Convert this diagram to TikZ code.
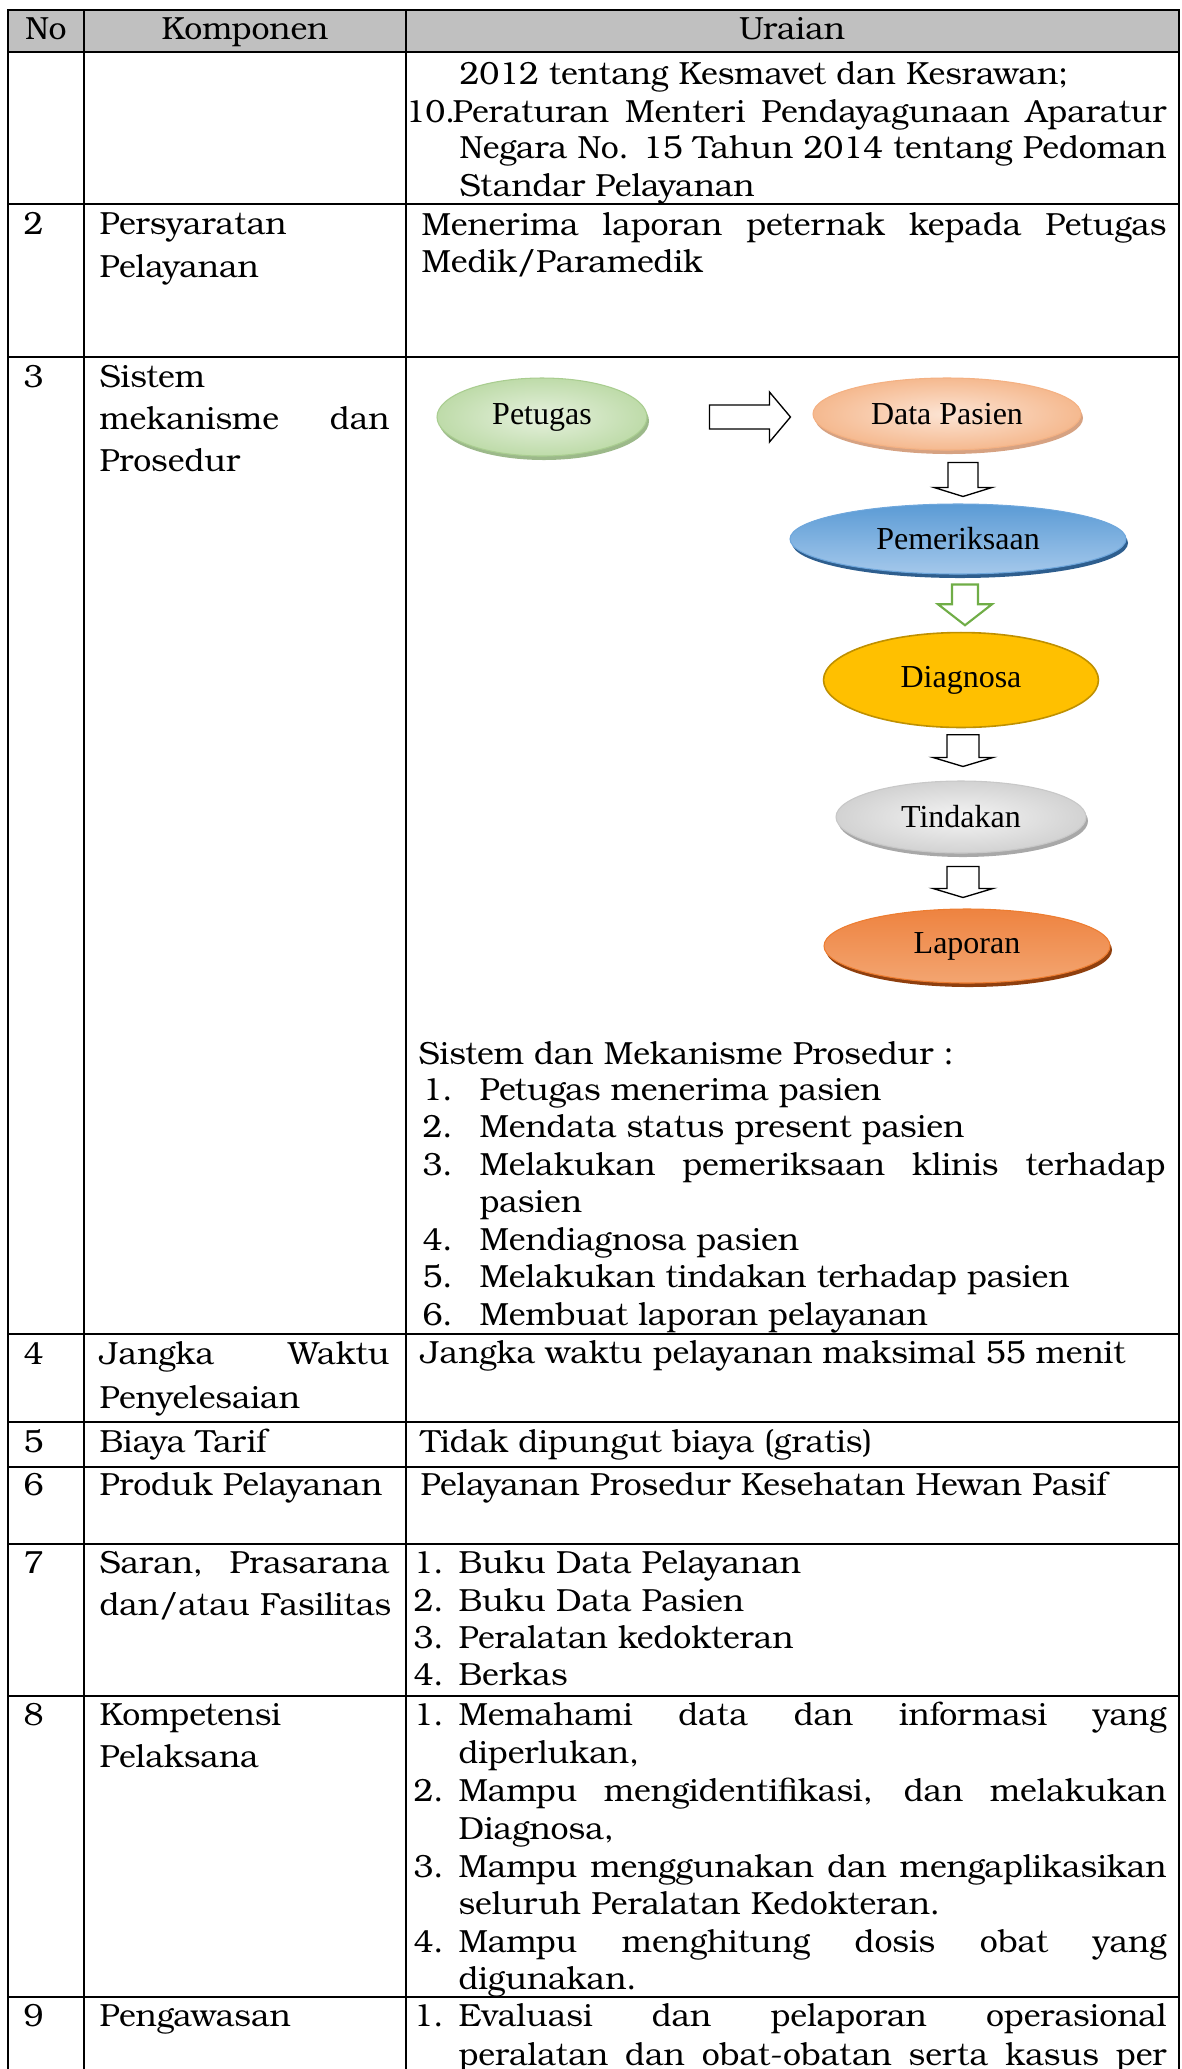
\documentclass[tikz,border=0pt]{standalone}
\usepackage{fontspec}
\setmainfont{TeX Gyre Bonum}
\newfontfamily\tnr{Liberation Serif}
\usetikzlibrary{shapes.geometric,shadows,calc}
\definecolor{hdr}{RGB}{192,192,192}
\definecolor{petI}{HTML}{E6F1DE}\definecolor{petO}{HTML}{BEDBA9}\definecolor{petB}{HTML}{A9CD90}\definecolor{petS}{HTML}{9CB98A}
\definecolor{dpI}{HTML}{FCE4D4}\definecolor{dpO}{HTML}{F5B98F}\definecolor{dpB}{HTML}{F4B183}\definecolor{dpS}{HTML}{D6A282}
\definecolor{pmT}{HTML}{5B9BD5}\definecolor{pmBo}{HTML}{A4C8EB}\definecolor{pmB}{HTML}{6FA7DC}\definecolor{pmS}{HTML}{2E5E8E}
\definecolor{dgF}{HTML}{FFC000}\definecolor{dgB}{HTML}{BF9000}
\definecolor{tnI}{HTML}{F4F4F4}\definecolor{tnO}{HTML}{D2D2D2}\definecolor{tnB}{HTML}{C8C8C8}\definecolor{tnS}{HTML}{A8A8A8}
\definecolor{lpT}{HTML}{EE8340}\definecolor{lpM}{HTML}{ED7D31}\definecolor{lpBo}{HTML}{F3A571}\definecolor{lpS}{HTML}{8F3F0E}
\definecolor{grn}{HTML}{70AD47}
\newcommand\jl[2]{\makebox[\dimexpr 0.375pt*#1\relax][s]{#2}}
\newcommand\dnarrow[6]{%
  \draw[blk,#6] ($(#1)+(-#3,0)$) -- ($(#1)+(#3,0)$) -- ($(#2)+(#3,-#5)$) -- ($(#2)+(#4,-#5)$) -- (#2) -- ($(#2)+(-#4,-#5)$) -- ($(#2)+(-#3,-#5)$) -- cycle;}
\tikzset{
  tx/.style={inner sep=0pt, anchor=base west, font=\fontsize{12}{14}\selectfont},
  txc/.style={inner sep=0pt, anchor=base, font=\fontsize{12}{14}\selectfont},
  ell/.style={ellipse, inner sep=0pt, font=\tnr\fontsize{12}{14}\selectfont, line width=0.4pt},
  grid/.style={line width=0.8pt, line cap=rect},
  blk/.style={line width=0.5pt, fill=white, line join=miter},
  shd/.style={drop shadow={shadow xshift=0.75pt, shadow yshift=-1.5pt, fill=#1, opacity=1}},
}
\begin{document}
\begin{tikzpicture}[x=0.375pt, y=-0.375pt]
\useasboundingbox (0,0) rectangle (1182,2069);
% ---------- grid ----------
\fill[hdr] (8,10) rectangle (1179,52);
\foreach \yy in {10,52,204,357,1334,1422,1467,1544,1696,1997}
  \draw[grid] (8,\yy) -- (1179,\yy);
\foreach \xx in {8,84,406,1179}
  \draw[grid] (\xx,10) -- (\xx,2075);
% ---------- header ----------
\node[txc] (hNo) at (46,39) {No};
\node[txc] (hKomp) at (245,39) {Komponen};
\node[txc] (hUr) at (792,39) {Uraian};
% ---------- row 1 ----------
\node[tx] (r1a) at (459,84) {2012 tentang Kesmavet dan Kesrawan;};
\node[tx] (r1n) at (405,122) {10.};
\node[tx] (r1b) at (452,122) {\jl{714}{Peraturan Menteri Pendayagunaan Aparatur}};
\node[tx] (r1c) at (459,158) {\jl{707}{Negara No. 15 Tahun 2014 tentang Pedoman}};
\node[tx] (r1d) at (459,196) {Standar Pelayanan};
% ---------- row 2 ----------
\node[tx] (n2) at (23,234) {2};
\node[tx] (k2a) at (99,234) {Persyaratan};
\node[tx] (k2b) at (99,277) {Pelayanan};
\node[tx] (u2a) at (421,235) {\jl{745}{Menerima laporan peternak kepada Petugas}};
\node[tx] (u2b) at (421,272) {Medik/Paramedik};
% ---------- row 3 ----------
\node[tx] (n3) at (23,387) {3};
\node[tx] (k3a) at (99,387) {Sistem};
\node[tx] (k3b) at (99,429) {\jl{290}{mekanisme dan}};
\node[tx] (k3c) at (99,471) {Prosedur};
% flow
\node[ell, shd=petS, inner color=petI, outer color=petO, draw=petB, minimum width=78.75pt, minimum height=29.25pt] (pet) at (542,417) {Petugas};
\node[ell, shd=dpS, inner color=dpI, outer color=dpO, draw=dpB, minimum width=100.5pt, minimum height=27pt] (dp) at (947,414) {Data Pasien};
\node[ell, shd=pmS, top color=pmT, bottom color=pmBo, draw=pmB, minimum width=126pt, minimum height=26.25pt] (pm) at (958,539) {Pemeriksaan};
\node[ell, fill=dgF, draw=dgB, line width=0.6pt, minimum width=103.1pt, minimum height=35.6pt] (dg) at (961,680) {Diagnosa};
\node[ell, shd=tnS, inner color=tnI, outer color=tnO, draw=tnB, minimum width=93.75pt, minimum height=27pt] (tn) at (961,817) {Tindakan};
\node[ell, shd=lpS, top color=lpT, middle color=lpM, bottom color=lpBo, draw=lpM, minimum width=107.25pt, minimum height=27.75pt] (lp) at (967,946) {Laporan};
% arrows
\coordinate (ra1) at ($(pet.east)+(62,0)$);
\coordinate (ra2) at ($(ra1 -| dp.west)+(-22,0)$);
\draw[blk] ($(ra1)+(0,-12)$) -- ($(ra2)+(-21,-12)$) -- ($(ra2)+(-21,-25)$) -- (ra2) -- ($(ra2)+(-21,25)$) -- ($(ra2)+(-21,12)$) -- ($(ra1)+(0,12)$) -- cycle;
\coordinate (ax) at (963,0);
\coordinate (ax2) at (965,0);
\coordinate (a1t) at ($(ax |- dp.south)+(0,12)$);
\coordinate (a1b) at ($(ax |- pm.north)+(0,-7)$);
\coordinate (a2t) at ($(ax2 |- pm.south)+(0,10)$);
\coordinate (a2b) at ($(ax2 |- dg.north)+(0,-6.5)$);
\coordinate (a3t) at ($(ax |- dg.south)+(0,6.5)$);
\coordinate (a3b) at ($(ax |- tn.north)+(0,-14)$);
\coordinate (a4t) at ($(ax |- tn.south)+(0,13)$);
\coordinate (a4b) at ($(ax |- lp.north)+(0,-11)$);
\dnarrow{a1t}{a1b}{15}{29}{9}{draw=black}
\dnarrow{a2t}{a2b}{13}{27}{21}{draw=grn, line width=0.8pt}
\dnarrow{a3t}{a3b}{16}{30}{9}{draw=black}
\dnarrow{a4t}{a4b}{16}{30}{9}{draw=black}
% text list
\node[tx] (u3) at (418,1064) {Sistem dan Mekanisme Prosedur :};
\node[tx] (u3n1) at (422,1100) {1.};
\node[tx] (u3t1) at (479,1100) {Petugas menerima pasien};
\node[tx] (u3n2) at (422,1137) {2.};
\node[tx] (u3t2) at (479,1137) {Mendata status present pasien};
\node[tx] (u3n3) at (422,1175) {3.};
\node[tx] (u3t3) at (479,1175) {\jl{686}{Melakukan pemeriksaan klinis terhadap}};
\node[tx] (u3t3b) at (479,1212) {pasien};
\node[tx] (u3n4) at (422,1250) {4.};
\node[tx] (u3t4) at (479,1250) {Mendiagnosa pasien};
\node[tx] (u3n5) at (422,1287) {5.};
\node[tx] (u3t5) at (479,1287) {Melakukan tindakan terhadap pasien};
\node[tx] (u3n6) at (422,1325) {6.};
\node[tx] (u3t6) at (479,1325) {Membuat laporan pelayanan};
% ---------- row 4 ----------
\node[tx] (n4) at (23,1364) {4};
\node[tx] (k4a) at (99,1364) {\jl{290}{Jangka Waktu}};
\node[tx] (k4b) at (99,1408) {Penyelesaian};
\node[tx] (u4) at (420,1363) {Jangka waktu pelayanan maksimal 55 menit};
% ---------- row 5 ----------
\node[tx] (n5) at (23,1452) {5};
\node[tx] (k5) at (99,1452) {Biaya Tarif};
\node[tx] (u5) at (420,1452) {Tidak dipungut biaya (gratis)};
% ---------- row 6 ----------
\node[tx] (n6) at (23,1495) {6};
\node[tx] (k6) at (99,1495) {Produk Pelayanan};
\node[tx] (u6) at (420,1495) {Pelayanan Prosedur Kesehatan Hewan Pasif};
% ---------- row 7 ----------
\node[tx] (n7) at (23,1573) {7};
\node[tx] (k7a) at (99,1573) {\jl{290}{Saran, Prasarana}};
\node[tx] (k7b) at (99,1615) {dan/atau Fasilitas};
\node[tx] (u7n1) at (413,1573) {1.};
\node[tx] (u7t1) at (458,1573) {Buku Data Pelayanan};
\node[tx] (u7n2) at (413,1611) {2.};
\node[tx] (u7t2) at (458,1611) {Buku Data Pasien};
\node[tx] (u7n3) at (413,1648) {3.};
\node[tx] (u7t3) at (458,1648) {Peralatan kedokteran};
\node[tx] (u7n4) at (413,1685) {4.};
\node[tx] (u7t4) at (458,1685) {Berkas};
% ---------- row 8 ----------
\node[tx] (n8) at (23,1725) {8};
\node[tx] (k8a) at (99,1725) {Kompetensi};
\node[tx] (k8b) at (99,1767) {Pelaksana};
\node[tx] (u8n1) at (413,1725) {1.};
\node[tx] (u8t1) at (458,1725) {\jl{708}{Memahami data dan informasi yang}};
\node[tx] (u8t1b) at (458,1763) {diperlukan,};
\node[tx] (u8n2) at (413,1801) {2.};
\node[tx] (u8t2) at (458,1801) {\jl{708}{Mampu mengidentifikasi, dan melakukan}};
\node[tx] (u8t2b) at (458,1839) {Diagnosa,};
\node[tx] (u8n3) at (413,1877) {3.};
\node[tx] (u8t3) at (458,1877) {\jl{708}{Mampu menggunakan dan mengaplikasikan}};
\node[tx] (u8t3b) at (458,1914) {seluruh Peralatan Kedokteran.};
\node[tx] (u8n4) at (413,1952) {4.};
\node[tx] (u8t4) at (458,1952) {\jl{708}{Mampu menghitung dosis obat yang}};
\node[tx] (u8t4b) at (458,1989) {digunakan.};
% ---------- row 9 ----------
\node[tx] (n9) at (23,2026) {9};
\node[tx] (k9) at (99,2026) {Pengawasan};
\node[tx] (u9n1) at (413,2026) {1.};
\node[tx] (u9t1) at (458,2026) {\jl{708}{Evaluasi dan pelaporan operasional}};
\node[tx] (u9t1b) at (458,2065) {\jl{708}{peralatan dan obat-obatan serta kasus per}};
\end{tikzpicture}
\end{document}
